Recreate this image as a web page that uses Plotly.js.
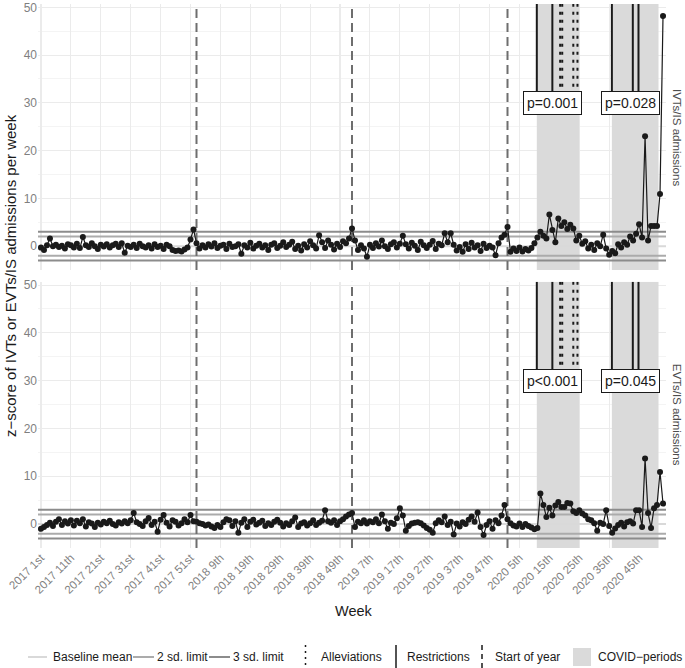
<!DOCTYPE html>
<html><head><meta charset="utf-8">
<script src="https://cdn.plot.ly/plotly-3.0.1.min.js"></script>
<style>html,body{margin:0;padding:0;background:#fff}</style>
</head><body>
<div id="chart" style="width:685px;height:668px"></div>
<script>
// ---- data: z-scores per week (2017 week 1 .. 2020 week 53) ----
const ivt2017 = [-0.3,-0.8,0.2,1.6,0.0,0.3,-0.2,0.1,-0.5,0.4,
 0.2,-0.3,0.5,-0.4,1.9,0.2,-0.2,0.6,0.0,-0.6,
 0.3,-0.1,0.4,-0.3,0.2,0.5,-0.2,0.6,-1.4,0.1,
 -0.2,0.3,-0.4,0.5,0.0,-0.3,0.2,-0.5,0.4,-0.2,
 0.1,-0.6,0.3,0.0,-0.8,-1.0,-0.9,-1.1,-0.7,-0.3,
 1.4,3.5];
const ivt2018 = [0.6,-0.5,0.2,-0.3,0.4,-0.1,0.6,-0.4,0.1,0.3,
 -0.6,0.5,-0.2,0.0,0.4,-1.6,0.2,-0.3,0.7,-0.5,
 0.1,0.5,-0.3,0.2,-0.8,0.3,0.6,-0.4,0.1,0.8,
 -0.2,0.3,0.9,-0.6,0.1,-0.9,0.4,-0.3,1.0,0.2,
 -0.5,2.3,0.8,-0.4,1.2,0.3,-0.7,0.5,-0.2,1.0,
 0.6,1.6];
const ivt2019 = [3.7,1.2,-0.8,0.2,-0.5,-2.2,0.3,-0.4,0.6,-0.1,
 1.2,0.0,-0.6,0.4,0.8,-0.3,0.5,2.2,0.4,-0.5,
 0.7,0.1,-0.8,0.9,0.2,-0.4,0.3,1.1,-0.6,0.5,
 0.2,2.7,0.8,2.7,0.3,-0.9,-0.2,-1.2,0.4,-0.6,
 0.7,-0.3,0.2,-1.0,0.5,-0.4,0.1,-0.3,-1.9,0.6,
 1.8,2.4];
const ivt2020 = [4.0,-1.2,-0.5,-1.0,-0.3,-1.1,-0.6,-0.9,-0.4,0.6,
 1.8,3.0,2.2,1.6,6.6,3.4,0.8,5.8,4.2,5.0,
 3.6,4.5,3.7,1.2,2.2,0.5,1.0,-0.5,0.3,-0.8,
 0.6,0.0,2.4,-0.5,-1.8,-1.0,-1.5,0.4,-0.3,0.8,
 0.3,2.0,1.2,2.6,4.6,1.8,23.0,1.2,4.2,4.2,
 4.2,10.9,48.2];

const evt2017 = [-1.0,-0.6,-0.2,0.3,-0.4,0.5,1.0,-0.2,0.6,0.1,
 0.8,-0.3,0.7,0.2,1.0,-0.5,0.4,0.1,-0.6,0.3,
 -0.1,0.5,0.2,0.7,0.0,-0.3,0.4,0.1,0.6,0.2,
 0.8,2.3,0.4,0.0,-0.4,0.6,1.3,-0.2,0.5,-1.6,
 0.9,1.9,0.3,-0.5,0.8,0.5,-0.3,0.2,1.0,0.4,
 1.9,0.6];
const evt2018 = [0.5,0.2,0.0,-0.3,-0.1,-0.5,-0.8,-0.2,-0.6,0.4,
 1.0,0.8,-0.4,0.6,-1.8,0.3,1.0,-0.6,0.5,0.9,
 -0.1,0.3,0.7,-0.4,0.2,-0.2,0.5,0.9,0.3,-0.5,
 0.2,-0.2,0.6,1.4,-0.6,0.1,0.4,-0.3,0.2,0.8,
 -0.2,0.3,0.7,2.9,0.6,0.3,0.8,-0.2,0.6,1.0,
 1.6,2.0];
const evt2019 = [2.3,-0.6,0.5,0.2,0.8,0.1,0.6,0.4,1.0,0.2,
 2.0,0.6,-1.0,0.3,0.0,1.2,3.3,1.8,-1.4,-0.4,
 0.1,0.3,0.4,0.2,-0.3,-0.8,-1.2,-1.8,0.2,0.8,
 0.4,1.6,-0.2,0.5,-2.2,0.1,-0.5,0.4,0.0,0.9,
 1.6,0.5,2.4,-0.6,-2.3,-0.2,0.6,-1.0,0.8,0.2,
 1.8,4.0];
const evt2020 = [1.0,0.2,-0.3,-0.5,0.1,-0.6,0.0,-0.4,-0.7,-1.1,
 -0.8,6.4,4.0,1.5,3.4,1.8,3.9,4.6,3.6,3.6,
 4.4,4.3,2.7,2.3,2.9,2.2,1.8,1.0,0.8,0.2,
 -1.4,0.3,0.0,2.9,-0.4,-1.8,-0.9,-0.2,0.3,-0.5,
 0.4,0.6,0.1,2.9,2.9,-0.6,13.7,2.3,-0.8,3.3,
 4.0,10.9,4.3];

const tickWeeks = [1,11,21,31,41,51,61,71,81,91,101,111,121,131,141,151,161,171,181,191,201];
const tickLabels = ["2017 1st","2017 11th","2017 21st","2017 31st","2017 41st","2017 51st",
 "2018 9th","2018 19th","2018 29th","2018 39th","2018 49th",
 "2019 7th","2019 17th","2019 27th","2019 37th","2019 47th",
 "2020 5th","2020 15th","2020 25th","2020 35th","2020 45th"];

const yearStarts = [53,105,157];
const covidStart = [166.8,191.9];
const covidEnd = [181.0,207.5];
const restrictions = [166.8,172.0,191.9,198.9,200.8];
const alleviations = [174.6,175.3,179.0,180.4];
const labelX = [172.0,198.2];
const labelY = 30;
const labelsIVT = ["p=0.001","p=0.028"];
const labelsEVT = ["p<0.001","p=0.045"];
const baselineMean = 0;
const sd2 = [-2,2];
const sd3 = [-3,3];
const panelNames = ["IVTs/IS admissions","EVTs/IS admissions"];

// ---- build ----
const ivt = ivt2017.concat(ivt2018, ivt2019, ivt2020);
const evt = evt2017.concat(evt2018, evt2019, evt2020);
const weeks = ivt.map((_, i) => i + 1);

const XR = [0, 210];
const YR = [-5.0, 50.7];
const dark = '#1A1A1A';
const traces = [];
const shapes = [];
const annotations = [];

function hline(xa, ya, v, color){
  traces.push({x:XR, y:[v, v], xaxis:xa, yaxis:ya, mode:'lines', line:{color:color, width:2}, hoverinfo:'skip', showlegend:false});
}

[['x','y',labelsIVT, ivt],['x2','y2',labelsEVT, evt]].forEach(([xa, ya, labs, series]) => {
  covidStart.forEach((s, i) => traces.push({x:[s, covidEnd[i], covidEnd[i], s, s], y:[YR[0], YR[0], YR[1], YR[1], YR[0]],
    xaxis:xa, yaxis:ya, mode:'lines', fill:'toself', fillcolor:'#DADADA', line:{width:0, color:'rgba(0,0,0,0)'}, hoverinfo:'skip', showlegend:false}));
  hline(xa, ya, baselineMean, '#D9D9D9');
  sd2.forEach(v => hline(xa, ya, v, '#ABABAB'));
  sd3.forEach(v => hline(xa, ya, v, '#8C8C8C'));
  yearStarts.forEach(w => traces.push({x:[w, w], y:YR, xaxis:xa, yaxis:ya, mode:'lines', line:{color:'#6E6E6E', width:2, dash:'9px,5px'}, hoverinfo:'skip', showlegend:false}));
  traces.push({x:weeks, y:series, xaxis:xa, yaxis:ya, mode:'lines+markers', line:{color:dark, width:1.2}, marker:{color:dark, size:6}, showlegend:false, hoverinfo:'skip'});
  restrictions.forEach(w => traces.push({x:[w, w], y:[labelY, YR[1]], xaxis:xa, yaxis:ya, mode:'lines', line:{color:dark, width:2}, hoverinfo:'skip', showlegend:false}));
  alleviations.forEach(w => traces.push({x:[w, w], y:[labelY, YR[1]], xaxis:xa, yaxis:ya, mode:'lines', line:{color:dark, width:2, dash:'3px,5px'}, hoverinfo:'skip', showlegend:false}));
  labs.forEach((t, i) => annotations.push({xref:xa, yref:ya, x:labelX[i], y:labelY, text:t, showarrow:false,
    font:{size:14, color:dark}, bgcolor:'#FFFFFF', bordercolor:dark, borderwidth:1, borderpad:3}));
});

// panel strips
const PL = 38, PW = 628, PB = 548, PH = 544;
const px = v => (v - PL) / PW;
const py = v => (PB - v) / PH;
const topDom = [0.511, 1], botDom = [0, 0.4895];
[topDom, botDom].forEach((d, i) => annotations.push({xref:'paper', yref:'paper', x:px(677), y:(d[0]+d[1])/2, xanchor:'center', yanchor:'middle', text:panelNames[i], textangle:90, showarrow:false, font:{size:11.5, color:'#4D4D4D'}}));

// axis titles
annotations.push({xref:'paper', yref:'paper', x:px(10), y:py(276), xanchor:'center', yanchor:'middle', text:'z\u2212score of IVTs or EVTs/IS admissions per week', textangle:-90, showarrow:false, font:{size:15, color:dark}});
annotations.push({xref:'paper', yref:'paper', x:px(354), y:py(611), xanchor:'center', yanchor:'middle', text:'Week', showarrow:false, font:{size:14.5, color:dark}});

// legend (drawn manually)
const LY = 657;
const legFont = {size:12, color:dark};
function legText(x, t){ annotations.push({xref:'paper', yref:'paper', x:px(x), y:py(LY), xanchor:'left', yanchor:'middle', text:t, showarrow:false, font:legFont}); }
function hKey(x0, x1, c){ shapes.push({type:'line', xref:'paper', yref:'paper', x0:px(x0), x1:px(x1), y0:py(LY), y1:py(LY), line:{color:c, width:2}}); }
function vKey(x, dash, w){ shapes.push({type:'line', xref:'paper', yref:'paper', x0:px(x), x1:px(x), y0:py(645), y1:py(669), line:{color:dark, width:w, dash:dash}}); }
hKey(28, 47, '#D9D9D9'); legText(51, 'Baseline mean');
hKey(133, 154, '#ABABAB'); legText(155, '2 sd. limit');
hKey(209, 230, '#8C8C8C'); legText(231, '3 sd. limit');
vKey(305.5, '2px,4px', 1.5); legText(319, 'Alleviations');
vKey(396, 'solid', 1.5); legText(405, 'Restrictions');
vKey(482, '5px,4px', 1.5); legText(493, 'Start of year');
shapes.push({type:'rect', xref:'paper', yref:'paper', x0:px(573), x1:px(591), y0:py(666), y1:py(648), fillcolor:'#DADADA', line:{width:0}});
legText(596, 'COVID\u2212periods');

const xCommon = {range:XR, tickvals:tickWeeks, ticktext:tickLabels, showgrid:true, gridcolor:'#EBEBEB', gridwidth:1.1, zeroline:false, showline:false, ticks:''};
const yCommon = {range:YR, tick0:0, dtick:10, showgrid:true, gridcolor:'#EBEBEB', gridwidth:1.1, zeroline:false, showline:false, ticks:'',
  tickfont:{size:12, color:'#7F7F7F'}, minor:{dtick:5, tick0:0, showgrid:true, gridcolor:'#EDEDED', gridwidth:0.6}};

const layout = {
  width:685, height:668, margin:{l:38, r:19, t:4, b:120}, paper_bgcolor:'#FFFFFF', plot_bgcolor:'#FFFFFF',
  font:{family:'Liberation Sans, Arial, sans-serif'},
  showlegend:false,
  xaxis: Object.assign({}, xCommon, {anchor:'y', showticklabels:false}),
  xaxis2: Object.assign({}, xCommon, {anchor:'y2', matches:'x', tickangle:-45, tickfont:{size:11.5, color:'#7F7F7F'}}),
  yaxis: Object.assign({}, yCommon, {domain:topDom, anchor:'x'}),
  yaxis2: Object.assign({}, yCommon, {domain:botDom, anchor:'x2'}),
  shapes: shapes, annotations: annotations
};
Plotly.newPlot('chart', traces, layout, {staticPlot:true, displayModeBar:false});
</script>
</body></html>
